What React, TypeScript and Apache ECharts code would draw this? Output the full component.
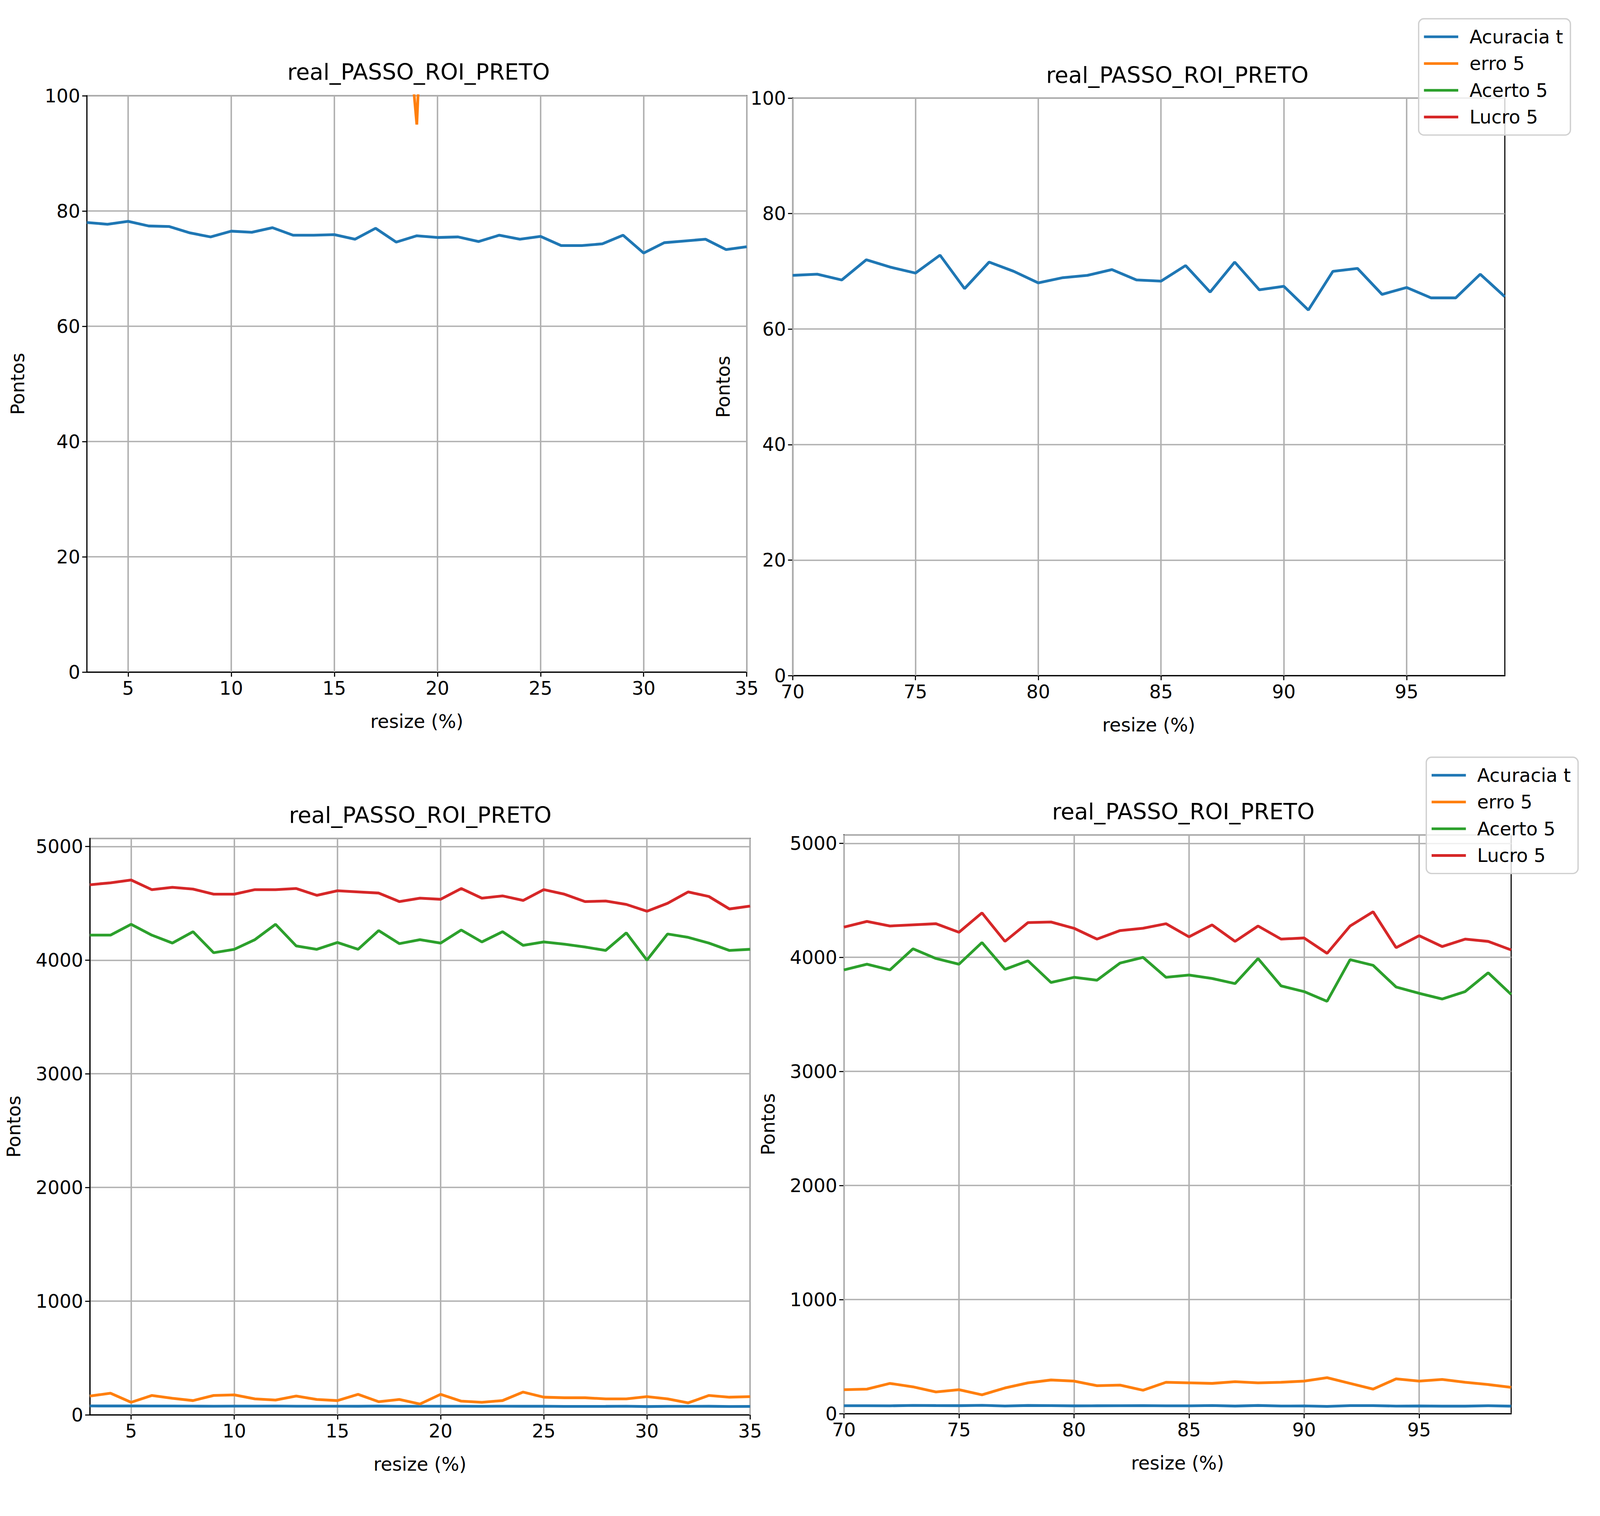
import { useEffect, useRef } from "react";
import * as echarts from "echarts";

// ── Data ──────────────────────────────────────────────────────────────────────
const X_LOW = [3, 4, 5, 6, 7, 8, 9, 10, 11, 12, 13, 14, 15, 16, 17, 18, 19, 20, 21, 22, 23, 24, 25, 26, 27, 28, 29, 30, 31, 32, 33, 34, 35];
const X_HIGH = [70, 71, 72, 73, 74, 75, 76, 77, 78, 79, 80, 81, 82, 83, 84, 85, 86, 87, 88, 89, 90, 91, 92, 93, 94, 95, 96, 97, 98, 99];

const ACC_LOW = [78, 77.7, 78.2, 77.4, 77.3, 76.2, 75.5, 76.5, 76.3, 77.1, 75.8, 75.8, 75.9, 75.1, 77, 74.6, 75.7, 75.4, 75.5, 74.7, 75.8, 75.1, 75.6, 74, 74, 74.3, 75.8, 72.7, 74.5, 74.8, 75.1, 73.3, 73.8];
const ERRO_LOW = [165, 190, 110, 170, 145, 125, 170, 175, 140, 130, 165, 135, 125, 180, 115, 135, 95, 180, 120, 110, 125, 200, 155, 150, 150, 140, 140, 160, 140, 105, 170, 155, 160];
const ACERTO_LOW = [4220, 4220, 4315, 4220, 4150, 4250, 4065, 4095, 4180, 4315, 4125, 4095, 4155, 4095, 4260, 4145, 4180, 4150, 4265, 4160, 4250, 4130, 4160, 4140, 4115, 4085, 4240, 4000, 4230, 4200, 4150, 4085, 4095];
const LUCRO_LOW = [4663, 4680, 4705, 4620, 4640, 4625, 4580, 4580, 4620, 4620, 4630, 4570, 4610, 4600, 4590, 4515, 4545, 4535, 4630, 4545, 4565, 4525, 4620, 4580, 4515, 4520, 4490, 4430, 4500, 4600, 4560, 4450, 4475];

const ACC_HIGH = [69.3, 69.5, 68.5, 72, 70.7, 69.7, 72.8, 67, 71.6, 70, 68, 68.9, 69.3, 70.3, 68.5, 68.3, 71, 66.4, 71.6, 66.8, 67.4, 63.3, 70, 70.5, 66, 67.2, 65.4, 65.4, 69.5, 65.6];
const ERRO_HIGH = [210, 215, 265, 235, 190, 210, 165, 225, 270, 295, 285, 245, 250, 205, 275, 270, 265, 280, 270, 275, 285, 315, 265, 215, 305, 285, 300, 275, 255, 230];
const ACERTO_HIGH = [3890, 3940, 3890, 4075, 3990, 3940, 4130, 3895, 3970, 3780, 3825, 3800, 3950, 4000, 3825, 3845, 3815, 3770, 3990, 3750, 3700, 3615, 3980, 3930, 3740, 3685, 3635, 3700, 3865, 3675];
const LUCRO_HIGH = [4265, 4315, 4275, 4285, 4295, 4220, 4390, 4140, 4305, 4310, 4255, 4160, 4235, 4255, 4295, 4180, 4285, 4140, 4275, 4160, 4170, 4035, 4275, 4400, 4085, 4190, 4095, 4160, 4140, 4065];

const TICKS_LOW = [5, 10, 15, 20, 25, 30, 35];
const TICKS_HIGH = [70, 75, 80, 85, 90, 95];
const NAMES = ["Acuracia t", "erro 5", "Acerto 5", "Lucro 5"];
const COLORS = ["#1f77b4", "#ff7f0e", "#2ca02c", "#d62728"];
const TITLE = "real_PASSO_ROI_PRETO";

// ── Layout (reference pixels, scaled to the viewport at runtime) ─────────────
const REF_W = 4808;
const REF_H = 3880;
const FONT = "DejaVu Sans";
const GRID_COLOR = "#b0b0b0";

const PANELS = [
  { left: 261, top: 245, w: 1983, h: 1475, xmin: 3, xmax: 35, ticks: TICKS_LOW, ymax: 100, step: 20, nameGap: 180, x: X_LOW, ys: [ACC_LOW, ERRO_LOW, ACERTO_LOW, LUCRO_LOW] },
  { left: 2382, top: 251, w: 2140, h: 1478, xmin: 70, xmax: 99, ticks: TICKS_HIGH, ymax: 100, step: 20, nameGap: 180, x: X_HIGH, ys: [ACC_HIGH, ERRO_HIGH, ACERTO_HIGH, LUCRO_HIGH] },
  { left: 270, top: 2146, w: 1984, h: 1475, xmin: 3, xmax: 35, ticks: TICKS_LOW, ymax: 5070, step: 1000, nameGap: 200, x: X_LOW, ys: [ACC_LOW, ERRO_LOW, ACERTO_LOW, LUCRO_LOW] },
  { left: 2536, top: 2137, w: 2005, h: 1481, xmin: 70, xmax: 99, ticks: TICKS_HIGH, ymax: 5073, step: 1000, nameGap: 200, x: X_HIGH, ys: [ACC_HIGH, ERRO_HIGH, ACERTO_HIGH, LUCRO_HIGH] },
];

const TITLES = [
  { cx: 1252, top: 150 },
  { cx: 3532, top: 158 },
  { cx: 1257, top: 2052 },
  { cx: 3550, top: 2043 },
];

export default function App() {
  const ref = useRef<HTMLDivElement>(null);

  useEffect(() => {
    const el = ref.current;
    if (!el) return;
    const chart = echarts.init(el, null, { renderer: "svg" });
    const sx = el.clientWidth / REF_W;
    const sy = el.clientHeight / REF_H;
    const s = Math.min(sx, sy);
    const FS = 56 * s;

    const legendAt = (left: number, top: number) => ({
      left: left * sx,
      top: top * sy,
      orient: "vertical" as const,
      data: NAMES,
      icon: "rect",
      itemWidth: 103 * s,
      itemHeight: 8 * s,
      itemGap: 24 * s,
      padding: [26 * s, 22 * s, 26 * s, 16 * s],
      backgroundColor: "rgba(255,255,255,0.8)",
      borderColor: "#d0d0d0",
      borderWidth: 4 * s,
      borderRadius: 16 * s,
      textStyle: { fontFamily: FONT, fontSize: FS, color: "#000", padding: [0, 0, 0, 28 * s] },
    });

    const axisLine = { show: true, onZero: false, lineStyle: { color: "#000", width: 3.3 * s } };
    const axisTick = { show: true, length: 14 * s, lineStyle: { color: "#000", width: 3.3 * s } };
    const axisLabel = { fontFamily: FONT, fontSize: FS, color: "#000", margin: 20 * s, formatter: (v: number) => String(v) };

    const series: any[] = [];
    PANELS.forEach((p, gi) => {
      p.ys.forEach((ys, si) => {
        series.push({
          name: NAMES[si],
          type: "line",
          xAxisIndex: gi,
          yAxisIndex: gi,
          data: p.x.map((x, i) => [x, ys[i]]),
          showSymbol: false,
          clip: true,
          lineStyle: { color: COLORS[si], width: 8.3 * s },
          itemStyle: { color: COLORS[si] },
          z: 3,
          ...(si === 0
            ? {
                markLine: {
                  silent: true,
                  symbol: "none",
                  animation: false,
                  label: { show: false },
                  lineStyle: { color: GRID_COLOR, width: 4.4 * s, type: "solid" },
                  data: p.ticks.map((t) => ({ xAxis: t })),
                  z: 1,
                },
              }
            : {}),
        });
      });
    });

    chart.setOption({
      animation: false,
      backgroundColor: "#fff",
      title: TITLES.map((t) => ({
        text: TITLE,
        left: t.cx * sx,
        top: t.top * sy,
        textAlign: "center",
        textStyle: { fontFamily: FONT, fontSize: 67 * s, fontWeight: "normal", color: "#000" },
      })),
      legend: [legendAt(4263, 48), legendAt(4286, 1938)],
      grid: PANELS.map((p) => ({
        left: p.left * sx, top: p.top * sy, width: p.w * sx, height: p.h * sy,
        show: true, borderColor: "#000", borderWidth: 3.3 * s, backgroundColor: "transparent",
      })),
      xAxis: PANELS.map((p, gi) => ({
        type: "value",
        gridIndex: gi,
        min: p.xmin,
        max: p.xmax,
        name: "resize (%)",
        nameLocation: "middle",
        nameGap: 120 * s,
        nameTextStyle: { fontFamily: FONT, fontSize: FS, color: "#000" },
        axisLine,
        axisTick: { ...axisTick, customValues: p.ticks },
        axisLabel: { ...axisLabel, customValues: p.ticks },
        splitLine: { show: false },
      })),
      yAxis: PANELS.map((p, gi) => ({
        type: "value",
        gridIndex: gi,
        min: 0,
        max: p.ymax,
        interval: p.step,
        name: "Pontos",
        nameLocation: "middle",
        nameGap: p.nameGap * s,
        nameTextStyle: { fontFamily: FONT, fontSize: FS, color: "#000" },
        axisLine,
        axisTick,
        axisLabel: { ...axisLabel, showMaxLabel: p.ymax === 100 },
        splitLine: { show: true, lineStyle: { color: GRID_COLOR, width: 4.4 * s } },
      })),
      series,
    });

    return () => chart.dispose();
  }, []);

  return <div ref={ref} style={{ position: "fixed", left: 0, top: 0, width: "100vw", height: "100vh" }} />;
}
